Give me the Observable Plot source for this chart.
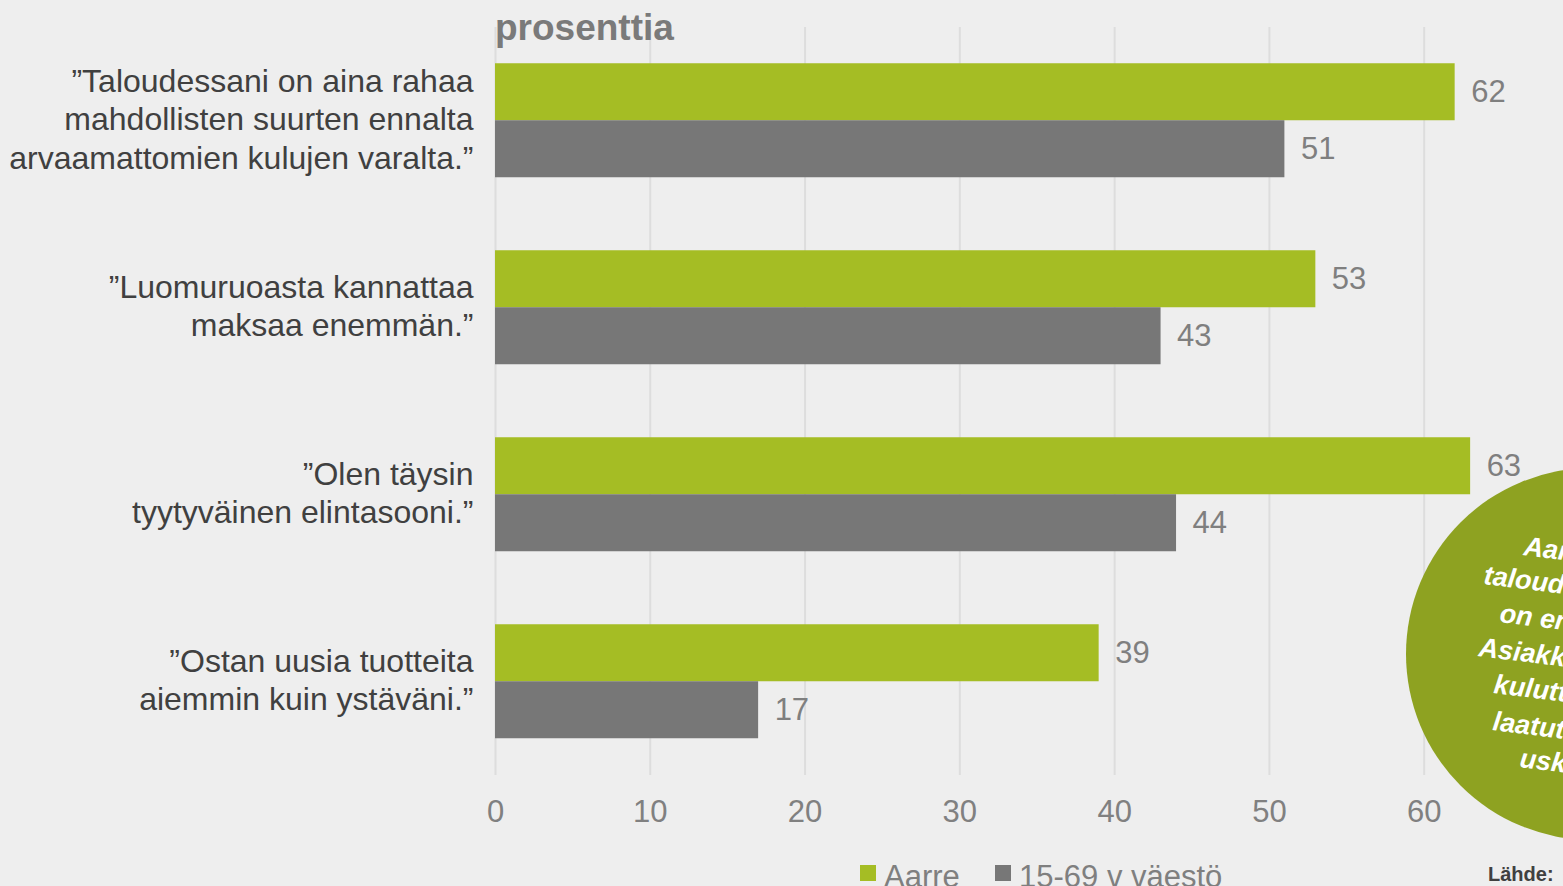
<!DOCTYPE html>
<html>
<head>
<meta charset="utf-8">
<script src="https://cdn.jsdelivr.net/npm/d3@7"></script>
<script src="https://cdn.jsdelivr.net/npm/@observablehq/plot@0.6"></script>
<style>
  html, body { margin: 0; padding: 0; background: #eeeeee; }
  #wrap { position: relative; width: 1563px; height: 886px; overflow: hidden; background: #eeeeee;
          font-family: "Liberation Sans", Arial, sans-serif; }
  #chart svg { display: block; }
  .overlay { position: absolute; left: 0; top: 0; pointer-events: none; }
</style>
</head>
<body>
<div id="wrap">
  <div id="chart"></div>
  <div id="legend"></div>
</div>
<script>
// ---- data ----
const categories = [
  "”Taloudessani on aina rahaa\nmahdollisten suurten ennalta\narvaamattomien kulujen varalta.”",
  "”Luomuruoasta kannattaa\nmaksaa enemmän.”",
  "”Olen täysin\ntyytyväinen elintasooni.”",
  "”Ostan uusia tuotteita\naiemmin kuin ystäväni.”"
];
const seriesNames = ["Aarre", "15-69 v väestö"];
const aarreValues = [62, 53, 63, 39];
const vaestoValues = [51, 43, 44, 17];
const xTicks = [0, 10, 20, 30, 40, 50, 60];
const unitLabel = "prosenttia";
const sourceLabel = "Lähde:";
const calloutLines = ["Aarteiden", "taloudessa", "on ensi-", "Asiakkaat", "kuluttavat", "laatutuotteisiin", "uskoen"];
const seriesColors = ["#a5bd24", "#777777"];

const data = categories.flatMap((c, i) => [
  {cat: c, s: seriesNames[0], v: aarreValues[i]},
  {cat: c, s: seriesNames[1], v: vaestoValues[i]}
]);

const font = "'Liberation Sans', Arial, sans-serif";

const chart = Plot.plot({
  width: 1563,
  height: 850,
  marginTop: 25.75,
  marginBottom: 74.25,
  marginLeft: 495,
  marginRight: 0,
  style: {background: "transparent", fontFamily: font, overflow: "visible"},
  x: {domain: [0, 69], label: null},
  y: {domain: seriesNames, paddingInner: 0, paddingOuter: 0.63, axis: null},
  fy: {domain: categories, padding: 0, axis: null},
  color: {domain: seriesNames, range: seriesColors},
  marks: [
    Plot.gridX(xTicks, {stroke: "#dddddd", strokeOpacity: 1, strokeWidth: 2}),
    Plot.barX(data, {x: "v", y: "s", fy: "cat", fill: "s"}),
    Plot.text(data, {x: "v", y: "s", fy: "cat", text: d => String(d.v), dx: 16,
      textAnchor: "start", fill: "#7f7f7f", fontSize: 31}),
    Plot.text(categories, {fy: d => d, text: d => d, frameAnchor: "left", dx: -22, dy: -3,
      textAnchor: "end", fontSize: 32, lineHeight: 1.2, fill: "#404040"}),
    Plot.axisX(xTicks, {tickSize: 0, tickPadding: 24, fontSize: 31, fill: "#808080", label: null})
  ]
});
document.getElementById("chart").appendChild(chart);

// ---- legend below ----
const leg = d3.select("#legend").append("svg")
  .attr("width", 1563).attr("height", 36).style("display", "block");
const legX = [860, 995];
seriesNames.forEach((n, i) => {
  leg.append("rect").attr("x", legX[i]).attr("y", 15).attr("width", 16).attr("height", 16)
    .attr("fill", seriesColors[i]);
  leg.append("text").attr("x", legX[i] + 24).attr("y", 37).attr("font-size", 31)
    .attr("font-family", font).attr("fill", "#7f7f7f").text(n);
});
leg.append("text").attr("x", 1488).attr("y", 31).attr("font-size", 20).attr("font-weight", "bold")
  .attr("font-family", font).attr("fill", "#404040").text(sourceLabel);

// ---- overlay: title and callout circle ----
const ov = d3.select("#wrap").append("svg").attr("class", "overlay")
  .attr("width", 1563).attr("height", 886);
ov.append("text").attr("x", 495).attr("y", 40).attr("font-size", 37).attr("font-weight", "bold")
  .attr("font-family", font).attr("fill", "#7a7a7a").text(unitLabel);
ov.append("circle").attr("cx", 1592).attr("cy", 654).attr("r", 186).attr("fill", "#8ea221");
const lineStarts = [[1523, 555], [1483, 584], [1499, 622], [1478, 656], [1493, 693], [1492, 730], [1519, 767]];
calloutLines.forEach((t, i) => {
  const [x, y] = lineStarts[i];
  ov.append("text").attr("x", x).attr("y", y)
    .attr("transform", `rotate(7 ${x} ${y})`)
    .attr("font-size", 27).attr("font-weight", "bold").attr("font-style", "italic")
    .attr("font-family", font).attr("fill", "#ffffff").text(t);
});
</script>
</body>
</html>
